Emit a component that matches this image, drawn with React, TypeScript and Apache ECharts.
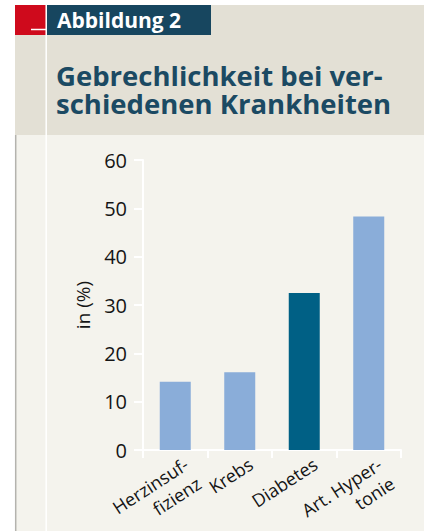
import React, { useEffect, useRef } from "react";
import * as echarts from "echarts";

const categories = ["Herzinsuf-\nfizienz", "Krebs", "Diabetes", "Art. Hyper-\ntonie"];
const values = [14.1, 16.1, 32.5, 48.3];
const barColors = ["#8aadd9", "#8aadd9", "#006085", "#8aadd9"];
const yTicks = { min: 0, max: 60, interval: 10 };
const figureLabel = "Abbildung 2";
const titleText = "Gebrechlichkeit bei ver-\nschiedenen Krankheiten";
const yAxisName = "in (%)";

const FONT = "'Open Sans', 'Noto Sans', sans-serif";

export default function App() {
  const ref = useRef<HTMLDivElement>(null);
  useEffect(() => {
    if (!ref.current) return;
    const chart = echarts.init(ref.current, undefined, { renderer: "svg" });
    chart.setOption({
      animation: false,
      backgroundColor: "#ffffff",
      textStyle: { fontFamily: FONT },
      graphic: [
        { type: "rect", z: -10, shape: { x: 15, y: 5, width: 409, height: 130 }, style: { fill: "#e3e0d5" } },
        { type: "rect", z: -10, shape: { x: 15, y: 135, width: 409, height: 396 }, style: { fill: "#f4f3ed" } },
        { type: "line", z: -9, shape: { x1: 15.7, y1: 135, x2: 15.7, y2: 531 }, style: { stroke: "#b4b3ae", lineWidth: 1.5 } },
        { type: "rect", z: -9, shape: { x: 15, y: 5, width: 31, height: 30 }, style: { fill: "#cf0a1c" } },
        { type: "rect", z: -9, shape: { x: 47, y: 5, width: 164, height: 30 }, style: { fill: "#17465f" } },
        { type: "line", z: -8, shape: { x1: 31, y1: 29.5, x2: 46, y2: 29.5 }, style: { stroke: "#ffffff", lineWidth: 1.5 } },
        { type: "line", z: -8, shape: { x1: 46.2, y1: 5, x2: 46.2, y2: 531 }, style: { stroke: "#ffffff", lineWidth: 1.5 } },
        {
          type: "text", x: 57, y: 20, style: {
            text: figureLabel, fill: "#ffffff", font: `bold 21px ${FONT}`, verticalAlign: "middle",
          },
        },
        {
          type: "text", x: 56, y: 89, style: {
            text: titleText, fill: "#1b4a63", font: `bold 27.5px ${FONT}`, verticalAlign: "middle",
            lineHeight: 28,
          },
        },
      ],
      grid: { left: 143, top: 160, right: 23, bottom: 81, containLabel: false, outerBoundsMode: "none" },
      xAxis: {
        type: "category",
        data: categories,
        axisLine: { show: true, lineStyle: { color: "#ffffff", width: 2 } },
        axisTick: { show: true, length: 8, lineStyle: { color: "#ffffff", width: 2 } },
        axisLabel: {
          interval: 0, rotate: 33, fontSize: 18, color: "#151515", lineHeight: 23,
          align: "right", verticalAlign: "top", margin: -5, padding: [9, 0, 0, 0],
          fontFamily: FONT,
        },
      },
      yAxis: {
        type: "value",
        min: yTicks.min,
        max: yTicks.max,
        interval: yTicks.interval,
        name: yAxisName,
        nameLocation: "middle",
        nameGap: 51,
        nameRotate: 90,
        nameTextStyle: { fontSize: 19, color: "#151515", fontFamily: FONT },
        axisLine: { show: true, lineStyle: { color: "#ffffff", width: 2 } },
        axisTick: { show: true, length: 9, lineStyle: { color: "#ffffff", width: 2 } },
        axisLabel: { fontSize: 20, color: "#151515", margin: 16, fontFamily: FONT },
        splitLine: { show: false },
      },
      series: [
        {
          type: "bar",
          barWidth: 31,
          data: values.map((v, i) => ({ value: v, itemStyle: { color: barColors[i] } })),
        },
      ],
    });
    return () => chart.dispose();
  }, []);
  return (
    <div
      ref={ref}
      style={{ position: "fixed", left: 0, top: 0, width: 424, height: 531 }}
    />
  );
}
